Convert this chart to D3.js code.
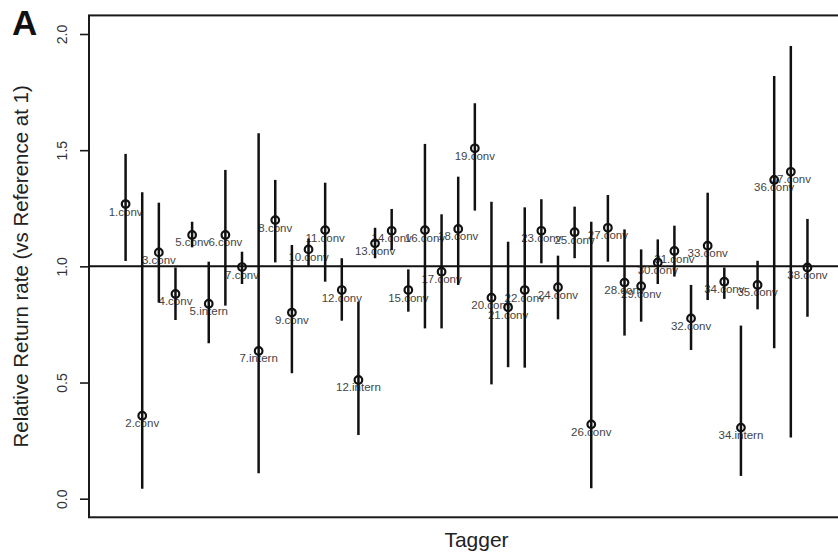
<!DOCTYPE html>
<html>
<head>
<meta charset="utf-8">
<script src="https://cdn.jsdelivr.net/npm/d3@7"></script>
<style>
  body { margin: 0; background: #fff; }
  svg { display: block; font-family: "Liberation Sans", Arial, sans-serif; }
</style>
</head>
<body>
<div id="chart"></div>
<script>
// taggers, point estimate and interval (relative to reference = 1)
var taggers = ["1.conv","2.conv","3.conv","4.conv","5.conv","5.intern","6.conv","7.conv","7.intern","8.conv",
  "9.conv","10.conv","11.conv","12.conv","12.intern","13.conv","14.conv","15.conv","16.conv","17.conv",
  "18.conv","19.conv","20.conv","21.conv","22.conv","23.conv","24.conv","25.conv","26.conv","27.conv",
  "28.conv","29.conv","30.conv","31.conv","32.conv","33.conv","34.conv","34.intern","35.conv","36.conv",
  "37.conv","38.conv"];
var estimate = [1.268,0.357,1.060,0.881,1.135,0.839,1.135,0.997,0.636,1.199,
  0.801,1.073,1.156,0.898,0.511,1.099,1.153,0.898,1.156,0.977,
  1.161,1.508,0.865,0.824,0.898,1.153,0.910,1.147,0.320,1.166,
  0.930,0.915,1.017,1.066,0.776,1.089,0.934,0.306,0.920,1.372,
  1.407,0.995];
var lower = [1.023,0.043,0.844,0.769,1.082,0.669,0.831,0.924,0.109,1.017,
  0.540,1.000,0.934,0.766,0.274,1.035,1.070,0.805,0.733,0.733,
  0.920,1.240,0.492,0.566,0.564,1.013,0.772,1.035,0.045,1.020,
  0.702,0.762,0.924,0.956,0.640,0.855,0.860,0.098,0.815,0.647,
  0.263,0.783];
var upper = [1.484,1.319,1.274,0.995,1.192,1.020,1.415,1.063,1.573,1.372,
  1.092,1.120,1.360,1.035,0.848,1.166,1.247,0.987,1.527,1.224,
  1.386,1.702,1.278,1.106,1.254,1.289,1.046,1.257,1.192,1.307,
  1.159,1.073,1.116,1.175,0.920,1.317,0.995,0.745,1.024,1.819,
  1.948,1.204];
var yTicks = [0, 0.5, 1, 1.5, 2];

var data = taggers.map(function(t, i) {
  return {name: t, idx: i + 1, est: estimate[i], lo: lower[i], hi: upper[i]};
});

var width = 838, height = 555;
var svg = d3.select("#chart").append("svg")
  .attr("width", width).attr("height", height);

var xScale = d3.scaleLinear().domain([-1.2, 45.4]).range([89, 864]);
var yScale = d3.scaleLinear().domain([0, 2]).range([498.7, 34]);

var boxTop = yScale(2.08), boxBottom = yScale(-0.08);

// plot box
svg.append("rect")
  .attr("x", xScale(-1.2)).attr("y", boxTop)
  .attr("width", xScale(45.4) - xScale(-1.2)).attr("height", boxBottom - boxTop)
  .attr("fill", "none").attr("stroke", "#1a1a1a").attr("stroke-width", 2);

// y axis
var yAxis = d3.axisLeft(yScale).tickValues(yTicks).tickSize(9).tickPadding(0)
  .tickFormat(d3.format(".1f"));
var gy = svg.append("g").attr("transform", "translate(89,0)").call(yAxis);
gy.select(".domain").remove();
gy.selectAll(".tick line").attr("stroke", "#1a1a1a").attr("stroke-width", 1.6);
gy.selectAll(".tick text")
  .attr("x", 0).attr("dy", 0)
  .attr("transform", "translate(-22.5,0) rotate(-90)")
  .attr("text-anchor", "middle")
  .attr("font-size", 14).attr("fill", "#333");

// reference line at 1
svg.append("line")
  .attr("x1", 89).attr("x2", width)
  .attr("y1", yScale(1)).attr("y2", yScale(1))
  .attr("stroke", "#111").attr("stroke-width", 2);

// labels
svg.selectAll(".lab").data(data).enter().append("text")
  .attr("class", "lab")
  .attr("x", d => xScale(d.idx))
  .attr("y", d => yScale(d.est) + 11.5)
  .attr("text-anchor", "middle")
  .attr("font-size", 11.5)
  .attr("fill", "#444")
  .text(d => d.name);

// intervals
svg.selectAll(".ci").data(data).enter().append("line")
  .attr("class", "ci")
  .attr("x1", d => xScale(d.idx)).attr("x2", d => xScale(d.idx))
  .attr("y1", d => yScale(d.lo)).attr("y2", d => yScale(d.hi))
  .attr("stroke", "#111").attr("stroke-width", 2.5);

// points
svg.selectAll(".pt").data(data).enter().append("circle")
  .attr("class", "pt")
  .attr("cx", d => xScale(d.idx)).attr("cy", d => yScale(d.est))
  .attr("r", 3.8)
  .attr("fill", "none").attr("stroke", "#111").attr("stroke-width", 2.2);

// axis titles
svg.append("text")
  .attr("transform", "translate(28," + ((boxTop + boxBottom) / 2) + ") rotate(-90)")
  .attr("text-anchor", "middle")
  .attr("font-size", 20.5).attr("fill", "#222")
  .text("Relative Return rate (vs Reference at 1)");

svg.append("text")
  .attr("x", (xScale(-1.2) + xScale(45.4)) / 2).attr("y", 547)
  .attr("text-anchor", "middle")
  .attr("font-size", 21).attr("fill", "#222")
  .text("Tagger");

svg.append("text")
  .attr("x", 12).attr("y", 35)
  .attr("font-size", 35).attr("font-weight", "bold").attr("fill", "#111")
  .text("A");
</script>
</body>
</html>
